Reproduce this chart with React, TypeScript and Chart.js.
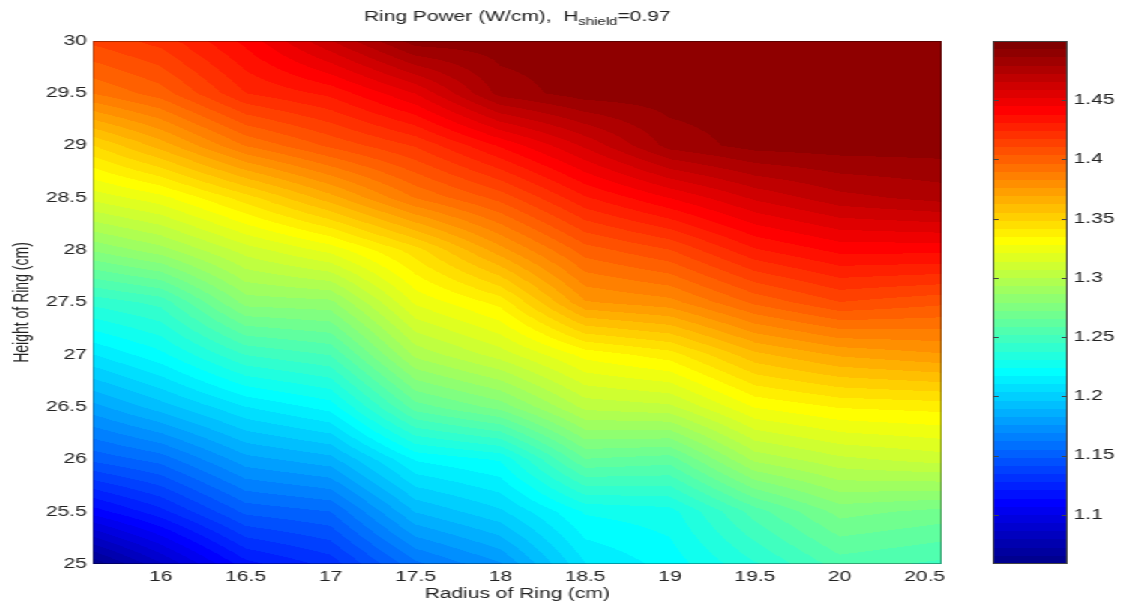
import React, { useEffect, useRef } from 'react';
import { Chart, registerables } from 'chart.js';

Chart.register(...registerables);

// ---- Data ----
const radius = [15.6, 16, 16.5, 17, 17.5, 18, 18.5, 19, 19.5, 20, 20.6];
const heights = [25, 25.5, 26, 26.5, 27, 27.5, 28, 28.5, 29, 29.5, 30];

const powerAtH25 = [1.06, 1.085, 1.118, 1.13, 1.16, 1.175, 1.21, 1.22, 1.237, 1.255, 1.25];
const powerAtH25_5 = [1.11, 1.125, 1.15, 1.155, 1.19, 1.202, 1.225, 1.228, 1.255, 1.275, 1.27];
const powerAtH26 = [1.15, 1.158, 1.18, 1.187, 1.218, 1.225, 1.265, 1.262, 1.295, 1.305, 1.31];
const powerAtH26_5 = [1.18, 1.193, 1.21, 1.22, 1.262, 1.275, 1.302, 1.305, 1.328, 1.335, 1.337];
const powerAtH27 = [1.21, 1.222, 1.245, 1.252, 1.295, 1.31, 1.33, 1.338, 1.36, 1.37, 1.375];
const powerAtH27_5 = [1.24, 1.247, 1.282, 1.284, 1.322, 1.337, 1.375, 1.38, 1.398, 1.41, 1.405];
const powerAtH28 = [1.28, 1.29, 1.31, 1.323, 1.345, 1.373, 1.4, 1.41, 1.43, 1.44, 1.44];
const powerAtH28_5 = [1.316, 1.325, 1.345, 1.366, 1.39, 1.406, 1.43, 1.445, 1.46, 1.47, 1.475];
const powerAtH29 = [1.348, 1.365, 1.39, 1.405, 1.418, 1.439, 1.46, 1.482, 1.489, 1.49, 1.49];
const powerAtH29_5 = [1.39, 1.4, 1.424, 1.433, 1.452, 1.482, 1.49, 1.49, 1.49, 1.49, 1.49];
const powerAtH30 = [1.412, 1.42, 1.44, 1.465, 1.49, 1.49, 1.49, 1.49, 1.49, 1.49, 1.49];

const powerRows = [
  powerAtH25, powerAtH25_5, powerAtH26, powerAtH26_5, powerAtH27, powerAtH27_5,
  powerAtH28, powerAtH28_5, powerAtH29, powerAtH29_5, powerAtH30,
];

const xTickValues = [16, 16.5, 17, 17.5, 18, 18.5, 19, 19.5, 20, 20.5];
const yTickValues = [25, 25.5, 26, 26.5, 27, 27.5, 28, 28.5, 29, 29.5, 30];
const colorbarTickValues = [1.1, 1.15, 1.2, 1.25, 1.3, 1.35, 1.4, 1.45];
const colorMin = 1.0585;
const colorMax = 1.5;
const xMin = 15.6;
const xMax = 20.6;
const yMin = 25;
const yMax = 30;

const titleMain = 'Ring Power (W/cm),  H';
const titleSub = 'shield';
const titleTail = '=0.97';
const xTitle = 'Radius of Ring (cm)';
const yTitle = 'Height of Ring (cm)';

// ---- Styling ----
const FONT = "'Liberation Sans', Arial, Helvetica, sans-serif";
const TEXT = '#222';
const BASE_W = 755;
const H = 608;
const STRETCH = 1132 / BASE_W;

// MATLAB jet(64)
const JET: number[][] = (() => {
  const u = (j: number) => (j < 1 || j > 47 ? 0 : j <= 16 ? j / 16 : j <= 31 ? 1 : (48 - j) / 16);
  const out: number[][] = [];
  for (let k = 1; k <= 64; k++) {
    out.push([u(k - 24), u(k - 8), u(k + 8)].map((c) => Math.round(c * 255)));
  }
  return out;
})();

function jetRGB(v: number) {
  let k = Math.floor(((v - colorMin) / (colorMax - colorMin)) * 64);
  k = Math.max(0, Math.min(63, k));
  return JET[k];
}

function locate(arr: number[], v: number): [number, number] {
  const n = arr.length;
  if (v <= arr[0]) return [0, 0];
  if (v >= arr[n - 1]) return [n - 2, 1];
  let i = 0;
  while (i < n - 2 && v > arr[i + 1]) i++;
  return [i, (v - arr[i]) / (arr[i + 1] - arr[i])];
}

const heatmapPlugin = {
  id: 'heatmap',
  beforeDatasetsDraw(chart: any) {
    const { ctx, chartArea: a, scales } = chart;
    const xs = scales.x;
    const ys = scales.y;
    const left = Math.round(a.left);
    const top = Math.round(a.top);
    const w = Math.round(a.right) - left;
    const h = Math.round(a.bottom) - top;
    const off = document.createElement('canvas');
    off.width = w;
    off.height = h;
    const octx = off.getContext('2d')!;
    const img = octx.createImageData(w, h);
    const ci: number[] = [];
    const ct: number[] = [];
    for (let i = 0; i < w; i++) {
      const [idx, t] = locate(radius, xs.getValueForPixel(left + i + 0.5));
      ci.push(idx);
      ct.push(t);
    }
    for (let j = 0; j < h; j++) {
      const [rj, rt] = locate(heights, ys.getValueForPixel(top + j + 0.5));
      const r0 = powerRows[rj];
      const r1 = powerRows[rj + 1];
      for (let i = 0; i < w; i++) {
        const c = ci[i];
        const t = ct[i];
        const a0 = r0[c] + (r0[c + 1] - r0[c]) * t;
        const a1 = r1[c] + (r1[c + 1] - r1[c]) * t;
        const v = a0 + (a1 - a0) * rt;
        const col = jetRGB(v);
        const p = (j * w + i) * 4;
        img.data[p] = col[0];
        img.data[p + 1] = col[1];
        img.data[p + 2] = col[2];
        img.data[p + 3] = 255;
      }
    }
    octx.putImageData(img, 0, 0);
    ctx.save();
    ctx.drawImage(off, left, top);
    ctx.strokeStyle = 'rgba(0,0,0,0.35)';
    ctx.lineWidth = 1;
    ctx.strokeRect(left + 0.5, top + 0.5, w - 1, h - 1);
    ctx.restore();
  },
};

const titlePlugin = {
  id: 'ringTitle',
  afterDraw(chart: any) {
    const { ctx, chartArea: a } = chart;
    ctx.save();
    ctx.fillStyle = TEXT;
    ctx.textBaseline = 'alphabetic';
    ctx.textAlign = 'left';
    ctx.font = `14px ${FONT}`;
    const w1 = ctx.measureText(titleMain).width;
    const w3 = ctx.measureText(titleTail).width;
    ctx.font = `10px ${FONT}`;
    const w2 = ctx.measureText(titleSub).width;
    const cx = (a.left + a.right) / 2;
    let x = cx - (w1 + w2 + w3) / 2;
    const base = 21;
    ctx.font = `14px ${FONT}`;
    ctx.fillText(titleMain, x, base);
    x += w1;
    ctx.font = `10px ${FONT}`;
    ctx.fillText(titleSub, x, base + 4);
    x += w2;
    ctx.font = `14px ${FONT}`;
    ctx.fillText(titleTail, x, base);
    ctx.restore();
  },
};

const colorbarPlugin = {
  id: 'colorbar',
  beforeDatasetsDraw(chart: any) {
    const { ctx, chartArea: a, scales } = chart;
    const ys = scales.y;
    const left = Math.round(a.left);
    const right = Math.round(a.right);
    const top = Math.round(a.top);
    const bottom = Math.round(a.bottom);
    ctx.save();
    for (let py = top; py < bottom; py++) {
      const c = jetRGB(ys.getValueForPixel(py + 0.5));
      ctx.fillStyle = `rgb(${c[0]},${c[1]},${c[2]})`;
      ctx.fillRect(left, py, right - left, 1);
    }
    ctx.strokeStyle = '#444';
    ctx.lineWidth = 1;
    ctx.strokeRect(left + 0.5, top + 0.5, right - left - 1, bottom - top - 1);
    ctx.beginPath();
    for (const v of colorbarTickValues) {
      const py = Math.round(ys.getPixelForValue(v)) + 0.5;
      ctx.moveTo(left, py);
      ctx.lineTo(left + 4, py);
      ctx.moveTo(right, py);
      ctx.lineTo(right - 4, py);
    }
    ctx.stroke();
    ctx.restore();
  },
};

export default function App() {
  const mainRef = useRef<HTMLCanvasElement>(null);
  const cbRef = useRef<HTMLCanvasElement>(null);

  useEffect(() => {
    if (!mainRef.current || !cbRef.current) return;
    const tickFont = { family: FONT, size: 14 };

    const main = new Chart(mainRef.current, {
      type: 'scatter',
      data: { datasets: [{ data: [], pointRadius: 0 }] },
      options: {
        animation: false,
        responsive: false,
        devicePixelRatio: 1,
        layout: { padding: { left: 0, top: 41, right: 127, bottom: 0 } },
        plugins: { legend: { display: false }, tooltip: { enabled: false }, title: { display: false } },
        scales: {
          x: {
            type: 'linear',
            position: 'bottom',
            min: xMin,
            max: xMax,
            afterBuildTicks: (s: any) => {
              s.ticks = xTickValues.map((v) => ({ value: v }));
            },
            afterFit: (s: any) => {
              s.height = 44;
            },
            ticks: {
              autoSkip: false,
              maxRotation: 0,
              minRotation: 0,
              padding: 5,
              color: TEXT,
              font: tickFont,
              callback: (v: any) => String(v),
            },
            grid: { display: false, drawTicks: false },
            border: { display: false },
            title: {
              display: true,
              text: xTitle,
              color: TEXT,
              font: tickFont,
              padding: { top: 0, bottom: 5 },
            },
          },
          y: {
            type: 'linear',
            position: 'left',
            min: yMin,
            max: yMax,
            afterBuildTicks: (s: any) => {
              s.ticks = yTickValues.map((v) => ({ value: v }));
            },
            afterFit: (s: any) => {
              s.width = 62;
            },
            ticks: {
              autoSkip: false,
              padding: 4,
              color: TEXT,
              font: tickFont,
              callback: (v: any) => String(v),
            },
            grid: { display: false, drawTicks: false },
            border: { display: false },
            title: {
              display: true,
              text: yTitle,
              color: TEXT,
              font: tickFont,
              padding: { top: 7, bottom: 0 },
            },
          },
        },
      } as any,
      plugins: [heatmapPlugin, titlePlugin],
    });

    const cb = new Chart(cbRef.current, {
      type: 'scatter',
      data: { datasets: [{ data: [], pointRadius: 0 }] },
      options: {
        animation: false,
        responsive: false,
        devicePixelRatio: 1,
        layout: { padding: { left: 32, top: 41, right: 0, bottom: 44 } },
        plugins: { legend: { display: false }, tooltip: { enabled: false } },
        scales: {
          x: { type: 'linear', display: false, min: 0, max: 1 },
          y: {
            type: 'linear',
            position: 'right',
            min: colorMin,
            max: colorMax,
            afterBuildTicks: (s: any) => {
              s.ticks = colorbarTickValues.map((v) => ({ value: v }));
            },
            afterFit: (s: any) => {
              s.width = 43;
            },
            ticks: {
              autoSkip: false,
              padding: 4,
              color: TEXT,
              font: tickFont,
              callback: (v: any) => String(v),
            },
            grid: { display: false, drawTicks: false },
            border: { display: false },
          },
        },
      } as any,
      plugins: [colorbarPlugin],
    });

    return () => {
      main.destroy();
      cb.destroy();
    };
  }, []);

  return (
    <div
      style={{
        position: 'fixed',
        left: 0,
        top: 0,
        width: 1132,
        height: H,
        overflow: 'hidden',
        background: '#fff',
      }}
    >
      <div
        style={{
          position: 'absolute',
          left: 0,
          top: 0,
          width: BASE_W,
          height: H,
          transform: `scaleX(${STRETCH})`,
          transformOrigin: '0 0',
        }}
      >
        <canvas ref={mainRef} width={BASE_W} height={H} style={{ position: 'absolute', left: 0, top: 0 }} />
        <canvas ref={cbRef} width={125} height={H} style={{ position: 'absolute', left: 630, top: 0 }} />
      </div>
    </div>
  );
}
